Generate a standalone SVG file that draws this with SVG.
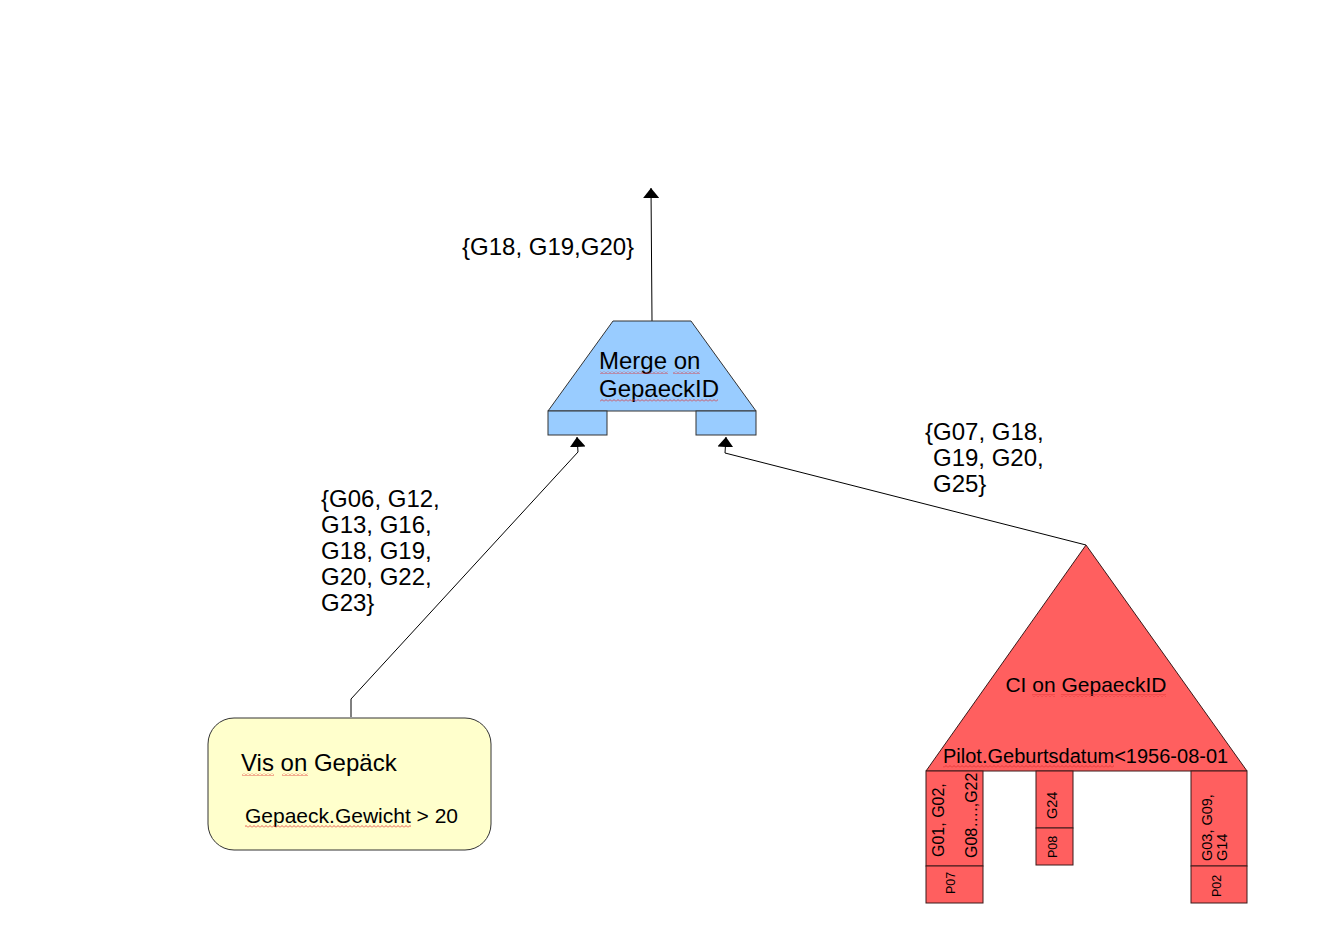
<svg xmlns="http://www.w3.org/2000/svg" width="1334" height="945" viewBox="0 0 1334 945">
<style>
text{font-family:"Liberation Sans",Arial,sans-serif;fill:#000}
.lbl{font-size:24px}
.mid{font-size:21px}
.pil{font-size:20px}
.g16{font-size:16px}
.g14{font-size:14.5px}
.p{font-size:12.5px}
.edge{fill:none;stroke:#000;stroke-width:1}
.red{fill:#ff5f5f;stroke:#3a1a1a;stroke-width:1}
.blue{fill:#99ccff;stroke:#333;stroke-width:1}
.wv{fill:url(#wave)}
</style>
<defs>
<marker id="arr" viewBox="0 0 10 16" refX="10" refY="8" markerWidth="10" markerHeight="16" markerUnits="userSpaceOnUse" orient="auto">
<path d="M0,0 L10,8 L0,16 Z" fill="#000"/>
</marker>
<pattern id="wave" width="4" height="3" patternUnits="userSpaceOnUse">
<path d="M0,2.5 L2,0.5 L4,2.5" fill="none" stroke="#e03030" stroke-width="0.8"/>
</pattern>
</defs>
<rect width="1334" height="945" fill="#fff"/>

<g id="connectors">
<path class="edge" d="M652,321 L651,188" marker-end="url(#arr)"/>
<path class="edge" d="M351,717 V699 L578,452 L577,437" marker-end="url(#arr)"/>
<path class="edge" d="M1086,545 L725,453 L726,437" marker-end="url(#arr)"/>
</g>

<g id="labels">
<text class="lbl" x="462" y="255">{G18, G19,G20}</text>
<text class="lbl" x="321" y="507">{G06, G12,</text>
<text class="lbl" x="321" y="533">G13, G16,</text>
<text class="lbl" x="321" y="559">G18, G19,</text>
<text class="lbl" x="321" y="585">G20, G22,</text>
<text class="lbl" x="321" y="611">G23}</text>
<text class="lbl" x="925" y="440">{G07, G18,</text>
<text class="lbl" x="933" y="466">G19, G20,</text>
<text class="lbl" x="933" y="492">G25}</text>
</g>

<g id="merge">
<path class="blue" d="M613,321 H691 L756,411 H548 Z"/>
<rect class="blue" x="548" y="411" width="59" height="24"/>
<rect class="blue" x="696" y="411" width="60" height="24"/>
<text class="lbl" x="599" y="369">Merge on</text>
<text class="lbl" x="599" y="397">GepaeckID</text>
<rect class="wv" x="600" y="371" width="68" height="3"/>
<rect class="wv" x="673" y="371" width="27" height="3"/>
<rect class="wv" x="600" y="399" width="118" height="3"/>
</g>

<g id="vis">
<rect x="208" y="718" width="283" height="132" rx="26" fill="#ffffcc" stroke="#333" stroke-width="1"/>
<text class="lbl" x="241" y="771">Vis on Gepäck</text>
<text class="mid" x="245" y="823">Gepaeck.Gewicht &gt; 20</text>
<rect class="wv" x="242" y="773" width="32" height="3"/>
<rect class="wv" x="282" y="773" width="26" height="3"/>
<rect class="wv" x="245" y="825" width="166" height="3"/>
</g>

<g id="ci">
<path class="red" d="M1086,545 L1247,771 H926 Z"/>
<text class="mid" x="1086" y="692" text-anchor="middle">CI on GepaeckID</text>
<text class="pil" x="943" y="763">Pilot.Geburtsdatum&lt;1956-08-01</text>
<rect class="wv" x="1032" y="694" width="23" height="3"/>
<rect class="wv" x="1061" y="694" width="105" height="3"/>
<rect class="wv" x="943" y="765" width="171" height="3"/>
<rect class="red" x="926" y="771" width="57" height="95"/>
<rect class="red" x="926" y="866" width="57" height="37"/>
<rect class="red" x="1036" y="771" width="37" height="57"/>
<rect class="red" x="1036" y="828" width="37" height="37"/>
<rect class="red" x="1191" y="771" width="56" height="95"/>
<rect class="red" x="1191" y="866" width="56" height="37"/>
<text class="g16" transform="translate(944,857) rotate(-90)">G01, G02,</text>
<text class="g16" transform="translate(977,858) rotate(-90)">G08….,G22</text>
<text class="p" transform="translate(955,894) rotate(-90)">P07</text>
<text class="g14" transform="translate(1057,819) rotate(-90)">G24</text>
<text class="p" transform="translate(1057,858) rotate(-90)">P08</text>
<text class="g14" transform="translate(1212,861) rotate(-90)">G03, G09,</text>
<text class="g14" transform="translate(1227,861) rotate(-90)">G14</text>
<text class="p" transform="translate(1221,897) rotate(-90)">P02</text>
</g>
</svg>
